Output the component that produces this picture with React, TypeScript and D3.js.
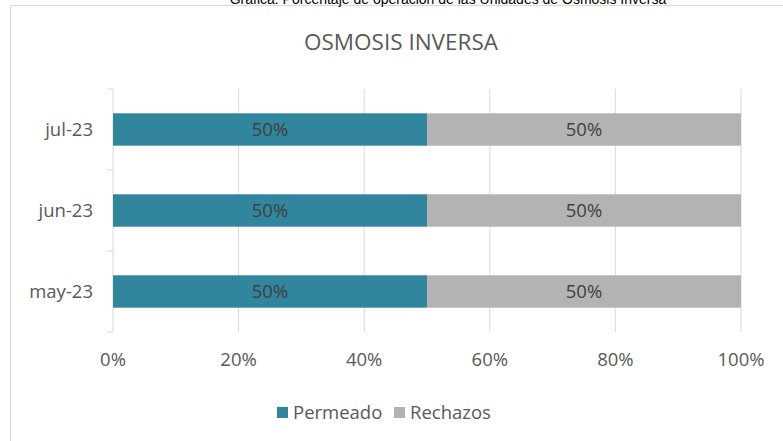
import React, { useEffect, useRef } from "react";
import * as d3 from "d3";

const months = ["may-23", "jun-23", "jul-23"];
const permeado = [50, 50, 50];
const rechazos = [50, 50, 50];
const xTicks = [0, 20, 40, 60, 80, 100];
const seriesNames = ["Permeado", "Rechazos"];
const seriesColors = ["#31859c", "#b3b3b3"];

const W = 783;
const H = 441;
const FONT = "'Open Sans', 'Noto Sans', sans-serif";
const FS = "18.5px";

export default function App() {
  const ref = useRef<SVGSVGElement>(null);

  useEffect(() => {
    const svg = d3.select(ref.current);
    svg.selectAll("*").remove();

    const left = 113;
    const right = 741;
    const top = 89;
    const bottom = 332;

    // chart frame
    svg.append("rect")
      .attr("x", 10.5).attr("y", 5.5)
      .attr("width", W + 20).attr("height", H + 20)
      .attr("fill", "white").attr("stroke", "#d9d9d9");

    // caption, cut off at the top as in the source
    svg.append("text")
      .attr("x", 448).attr("y", 3.5)
      .attr("text-anchor", "middle")
      .style("font-family", "'Liberation Sans', Arial, sans-serif")
      .style("font-size", "14px")
      .attr("fill", "#000")
      .text("Gráfica: Porcentaje de operación de las Unidades de Osmosis Inversa");

    svg.append("text")
      .attr("x", 401).attr("y", 50)
      .attr("text-anchor", "middle")
      .style("font-family", FONT)
      .style("font-size", "22.5px")
      .attr("fill", "#595959")
      .text("OSMOSIS INVERSA");

    const x = d3.scaleLinear().domain([0, 100]).range([left, right]);
    const y = d3.scaleBand().domain([...months].reverse()).range([top, bottom]).paddingInner(0.6).paddingOuter(0.3);

    // gridlines
    svg.append("g").selectAll("line").data(xTicks.slice(1)).join("line")
      .attr("x1", d => x(d)).attr("x2", d => x(d))
      .attr("y1", top).attr("y2", bottom)
      .attr("stroke", "#d9d9d9").attr("stroke-width", 1);

    // y axis line + ticks between categories
    const band = (bottom - top) / months.length;
    svg.append("line")
      .attr("x1", left).attr("x2", left).attr("y1", top).attr("y2", bottom)
      .attr("stroke", "#d9d9d9");
    svg.append("g").selectAll("line").data(d3.range(months.length + 1)).join("line")
      .attr("x1", left - 6).attr("x2", left)
      .attr("y1", i => top + i * band).attr("y2", i => top + i * band)
      .attr("stroke", "#d9d9d9");

    const rows = months.map((m, i) => ({ m, vals: [permeado[i], rechazos[i]] }));

    rows.forEach(r => {
      let acc = 0;
      r.vals.forEach((v, j) => {
        const x0 = x(acc);
        const x1 = x(acc + v);
        svg.append("rect")
          .attr("x", x0).attr("y", y(r.m)!)
          .attr("width", x1 - x0).attr("height", y.bandwidth())
          .attr("fill", seriesColors[j]);
        svg.append("text")
          .attr("x", (x0 + x1) / 2).attr("y", y(r.m)! + y.bandwidth() / 2)
          .attr("dy", "0.35em")
          .attr("text-anchor", "middle")
          .style("font-family", FONT).style("font-size", FS)
          .attr("fill", "#404040")
          .text(v + "%");
        acc += v;
      });
    });

    // category labels
    svg.append("g").selectAll("text").data(months).join("text")
      .attr("x", left - 20).attr("y", d => y(d)! + y.bandwidth() / 2)
      .attr("dy", "0.35em").attr("text-anchor", "end")
      .style("font-family", FONT).style("font-size", FS)
      .attr("fill", "#595959")
      .text(d => d);

    // x tick labels
    svg.append("g").selectAll("text").data(xTicks).join("text")
      .attr("x", d => x(d)).attr("y", 360)
      .attr("dy", "0.35em").attr("text-anchor", "middle")
      .style("font-family", FONT).style("font-size", FS)
      .attr("fill", "#595959")
      .text(d => d + "%");

    // legend
    const legX = [277, 394];
    seriesNames.forEach((s, i) => {
      svg.append("rect")
        .attr("x", legX[i]).attr("y", 407).attr("width", 11).attr("height", 11)
        .attr("fill", seriesColors[i]);
      svg.append("text")
        .attr("x", legX[i] + 16).attr("y", 413)
        .attr("dy", "0.35em")
        .style("font-family", FONT).style("font-size", FS)
        .attr("fill", "#595959")
        .text(s);
    });
  }, []);

  return (
    <svg ref={ref} width={W} height={H}
      style={{ position: "absolute", left: 0, top: 0, background: "white" }} />
  );
}
